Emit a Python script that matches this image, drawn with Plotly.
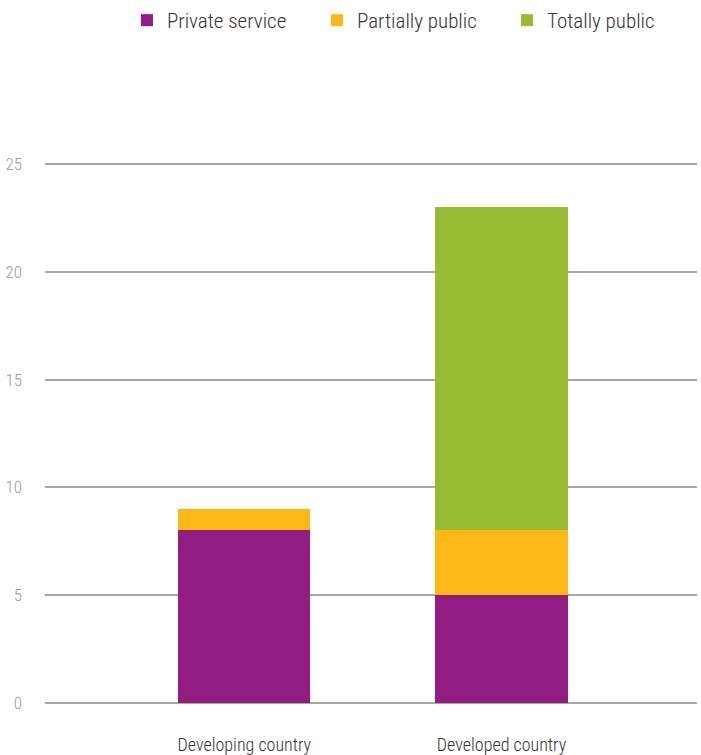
import plotly.graph_objects as go

categories = ["Developing country", "Developed country"]
private_service = [8, 5]
partially_public = [1, 3]
totally_public = [0, 15]
series_names = ["Private service", "Partially public", "Totally public"]
colors = ["#931C82", "#FCB815", "#97BC33"]

FONT = "Roboto Condensed, Liberation Sans Narrow, Roboto, sans-serif"

fig = go.Figure()
for name, vals, col in zip(series_names, [private_service, partially_public, totally_public], colors):
    fig.add_trace(go.Bar(x=categories, y=vals, name=name, marker=dict(color=col, line=dict(width=0)), width=0.514))

fig.update_layout(
    barmode="stack",
    width=701, height=755,
    margin=dict(l=45, r=4, t=163, b=51),
    paper_bgcolor="white", plot_bgcolor="white",
    font=dict(family=FONT, color="#333333"),
    legend=dict(orientation="h", x=1, xanchor="right", y=1, yref="container", yanchor="top",
                font=dict(size=21, color="#333333", weight=300), itemwidth=30, traceorder="normal",
                itemsizing="constant", entrywidth=145),
    xaxis=dict(range=[-0.775, 1.76], showgrid=False, showline=False, zeroline=False, automargin=False,
               tickfont=dict(size=18, color="#333333", weight=300), ticks="", ticklabelstandoff=28),
    yaxis=dict(range=[-0.05, 25.05], tickvals=[0, 5, 10, 15, 20, 25], showgrid=True, automargin=False,
               gridcolor="#A8A8A0", gridwidth=1.5, zeroline=False, showline=False,
               tickfont=dict(size=17, color="#9a9a9a", weight=300), ticks="", ticklabelstandoff=22),
    bargap=0,
)
fig.write_html("out.html")
